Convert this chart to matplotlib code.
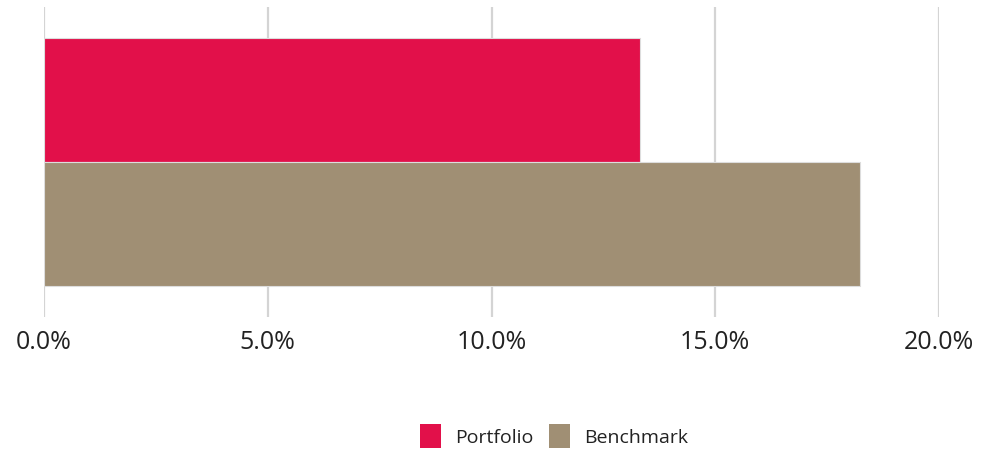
import matplotlib.pyplot as plt
from matplotlib.patches import Patch

plt.rcParams['font.family'] = ['Open Sans', 'DejaVu Sans']

series = ['Portfolio', 'Benchmark']
values = [13.32, 18.23]
colors = ['#E2104A', '#A08F74']
ticks = [0, 5, 10, 15, 20]
tick_labels = ['0.0%', '5.0%', '10.0%', '15.0%', '20.0%']

fig = plt.figure(figsize=(9.83, 4.56), dpi=100)
ax = fig.add_axes([44 / 983, 1 - 318 / 456, (939 - 44) / 983, 310 / 456])

# one category, two bars stacked vertically (portfolio on top)
bar_h = 0.4
for i, (name, v, c) in enumerate(zip(series, values, colors)):
    y = 0.2 - i * bar_h
    ax.barh(y, v, height=bar_h, color=c, edgecolor='#dddddd', linewidth=0.8, zorder=3)

ax.set_xlim(0, 20)
ax.set_ylim(-0.5, 0.5)
ax.set_xticks(ticks)
ax.set_xticklabels(tick_labels, fontsize=18, color='#222222')
ax.set_yticks([])
ax.grid(axis='x', color='#d4d4d4', linewidth=1.6, zorder=0)
for s in ax.spines.values():
    s.set_visible(False)
ax.tick_params(axis='x', length=0, pad=9)

handles = [Patch(facecolor=c, label=n) for n, c in zip(series, colors)]
fig.legend(handles=handles, loc='center', bbox_to_anchor=(554 / 983, 1 - 437 / 456),
           ncol=2, frameon=False, fontsize=14, handlelength=1.1, handleheight=1.5,
           handletextpad=0.7, columnspacing=0.8, labelcolor='#222222')

fig.savefig('out.png', dpi=100)
